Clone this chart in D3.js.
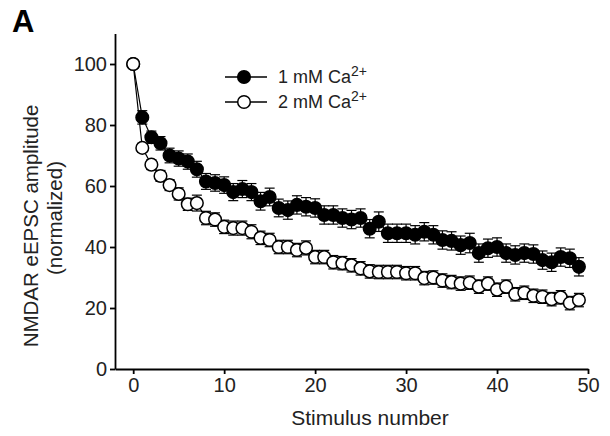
<!DOCTYPE html>
<html>
<head>
<meta charset="utf-8">
<title>NMDAR eEPSC amplitude</title>
<style>
  body { margin: 0; background: #fff; }
  svg { display: block; font-family: 'Liberation Sans', Arial, sans-serif; }
  .axis .domain { stroke: #000; stroke-width: 1.8; }
  .axis .tick line { stroke: #000; stroke-width: 1.8; }
  .axis .tick text { font-size: 20px; fill: #222; font-family: 'Liberation Sans', Arial, sans-serif; }
</style>
</head>
<body>
<svg width="610" height="436"></svg>
<script src="https://d3js.org/d3.v7.min.js"></script>
<script>
// stimulus numbers 0..49
let stim = [0,1,2,3,4,5,6,7,8,9,10,11,12,13,14,15,16,17,18,19,20,21,22,23,24,
            25,26,27,28,29,30,31,32,33,34,35,36,37,38,39,40,41,42,43,44,45,46,47,48,49];

// 1 mM Ca2+ (filled)
let ca1 = [100,82.5,76,74,70,69,68,65.5,61.5,61,60.3,58,59,58,55,56.4,52.8,52.1,53.8,53.2,
           52.8,50.5,50.5,49.5,49,49.5,46,48.3,44.5,44.5,44.5,44,45,44,42.3,42,40.6,41.3,38,39.6,
           40,38,37.4,38,37.7,35.7,35,36.7,36.3,33.5];
let ca1Err = [0,2.2,2,2.2,2.4,2.5,2.5,2.6,2.6,2.7,2.7,2.8,2.8,2.8,2.9,2.9,2.9,3,3,3,
              3,3,3,3,3,3,3,3.2,3,3,3,3,3,3,3,3,3,3.2,3,3,3,3,3,3,3,3,3,3,3,3];

// 2 mM Ca2+ (open)
let ca2 = [100,72.5,67,63.3,60.3,57.4,54,54.4,49.5,49,46.6,46.2,46.2,45,43,42.3,40,40,39,39.7,
           36.7,36.7,35,34.7,34,33,32,31.8,31.8,31.8,31.4,31.4,29.8,30,29,28.5,28,28.3,27,28,
           26,27,24.5,25,24,23.7,22.9,23.5,21.6,22.6];
let ca2Err = [0,1.5,1.6,1.8,1.8,2,2,2.6,2.2,2.2,2.2,2.3,2.3,2.3,2.2,2.2,2.2,2.2,2.2,2.3,
              2.2,2.2,2.2,2.2,2.2,2.2,2.2,2.2,2.2,2.2,2.2,2.2,2.2,2.2,2.2,2.2,2.2,2.2,2.2,2.2,
              2.2,2.2,2.2,2.2,2.2,2.2,2.2,2.2,2.2,2.2];

let xTicks = [0,10,20,30,40,50];
let yTicks = [0,20,40,60,80,100];

let svg = d3.select("svg");

let x = d3.scaleLinear().domain([-2, 50]).range([115, 588]);
let y = d3.scaleLinear().domain([0, 110]).range([369, 33.5]);

// axes
svg.append("g")
  .attr("class", "axis")
  .attr("transform", "translate(0,369)")
  .call(d3.axisBottom(x).tickValues(xTicks).tickSize(5).tickSizeOuter(0).tickPadding(4));

svg.append("g")
  .attr("class", "axis")
  .attr("transform", "translate(115,0)")
  .call(d3.axisLeft(y).tickValues(yTicks).tickSize(5).tickSizeOuter(0).tickPadding(3));

let series = [
  { vals: ca1, err: ca1Err, fill: "#000" },
  { vals: ca2, err: ca2Err, fill: "#fff" }
];

series.forEach(s => {
  let pts = stim.map((n, i) => ({ n: n, v: s.vals[i], e: s.err[i] }));
  let g = svg.append("g");

  g.append("path")
    .datum(pts)
    .attr("fill", "none")
    .attr("stroke", "#000")
    .attr("stroke-width", 1.2)
    .attr("d", d3.line().x(d => x(d.n)).y(d => y(d.v)));

  let eb = g.selectAll(".eb").data(pts.filter(d => d.e > 0)).join("g");
  eb.append("line")
    .attr("x1", d => x(d.n)).attr("x2", d => x(d.n))
    .attr("y1", d => y(d.v - d.e)).attr("y2", d => y(d.v + d.e))
    .attr("stroke", "#000").attr("stroke-width", 1.2);
  [1, -1].forEach(sign => {
    eb.append("line")
      .attr("x1", d => x(d.n) - 5).attr("x2", d => x(d.n) + 5)
      .attr("y1", d => y(d.v + sign * d.e)).attr("y2", d => y(d.v + sign * d.e))
      .attr("stroke", "#000").attr("stroke-width", 1.2);
  });

  g.selectAll("circle").data(pts).join("circle")
    .attr("cx", d => x(d.n))
    .attr("cy", d => y(d.v))
    .attr("r", 6.3)
    .attr("fill", s.fill)
    .attr("stroke", "#000")
    .attr("stroke-width", 1.5);
});

// legend
let legend = [
  { label: "1 mM Ca", fill: "#000", yy: 77 },
  { label: "2 mM Ca", fill: "#fff", yy: 102 }
];
legend.forEach(l => {
  svg.append("line").attr("x1", 225).attr("x2", 267).attr("y1", l.yy).attr("y2", l.yy)
    .attr("stroke", "#000").attr("stroke-width", 1.5);
  svg.append("circle").attr("cx", 244).attr("cy", l.yy).attr("r", 6.3)
    .attr("fill", l.fill).attr("stroke", "#000").attr("stroke-width", 1.5);
  let t = svg.append("text").attr("x", 278).attr("y", l.yy + 6)
    .style("font-size", "18px").style("fill", "#222").text(l.label);
  t.append("tspan").attr("dy", -7).style("font-size", "14px").text("2+");
});

// axis titles
svg.append("text")
  .attr("x", 370).attr("y", 425)
  .attr("text-anchor", "middle")
  .style("font-size", "21px").style("fill", "#222")
  .text("Stimulus number");

svg.append("text")
  .attr("transform", "translate(38,226) rotate(-90)")
  .attr("text-anchor", "middle")
  .style("font-size", "20.5px").style("fill", "#222")
  .text("NMDAR eEPSC amplitude");

svg.append("text")
  .attr("transform", "translate(62,218) rotate(-90)")
  .attr("text-anchor", "middle")
  .style("font-size", "20.5px").style("fill", "#222")
  .text("(normalized)");

svg.append("text")
  .attr("x", 12).attr("y", 32)
  .style("font-size", "31px").style("font-weight", "bold").style("fill", "#000")
  .text("A");
</script>
</body>
</html>
